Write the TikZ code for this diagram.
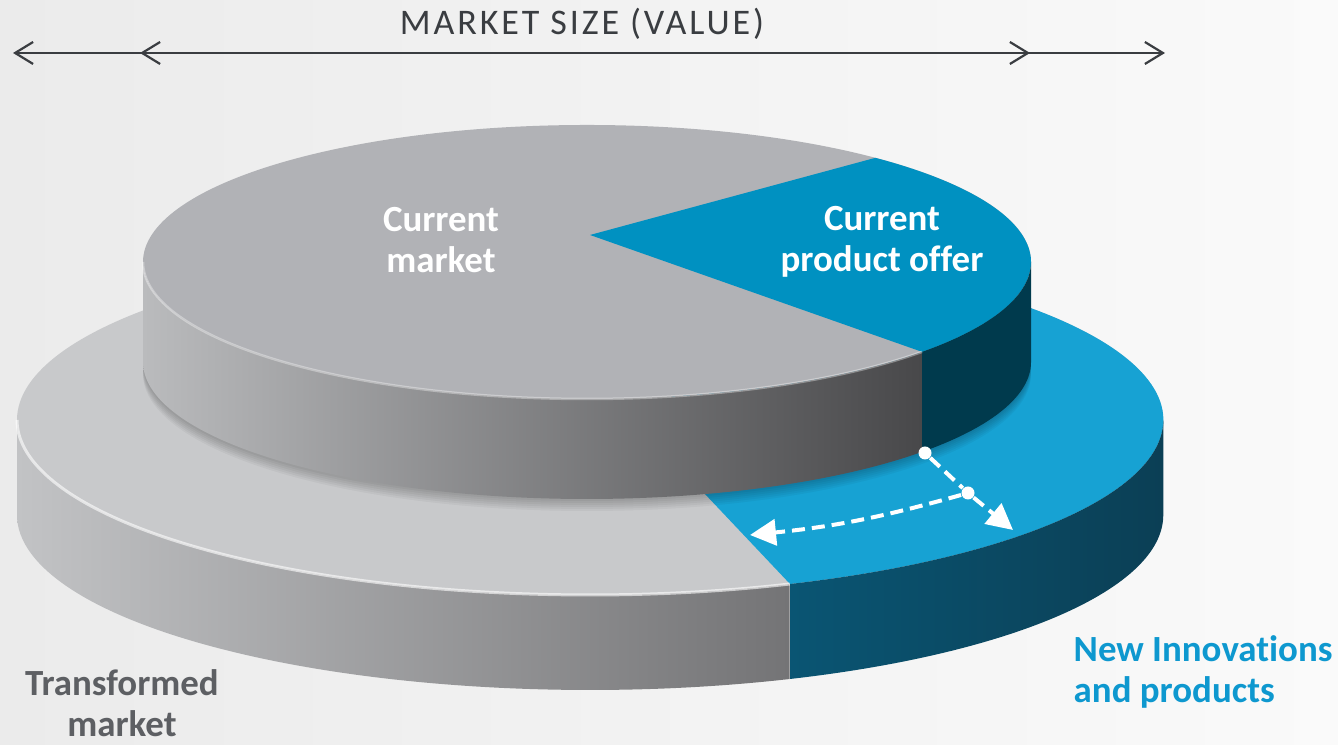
\documentclass[tikz,border=0pt]{standalone}
\usepackage{fontspec}
\setmainfont[Ligatures={NoCommon}]{Carlito}
\newfontfamily\spacedfont[LetterSpace=8, Ligatures={NoCommon}]{Carlito}
\usepackage{tikz}
\usetikzlibrary{arrows.meta}

\definecolor{bgleft}{HTML}{EBEBEB}
\definecolor{bgright}{HTML}{FAFAFA}
\definecolor{arrowgray}{HTML}{3A3D41}
\definecolor{topgray}{HTML}{B1B2B6}
\definecolor{topblue}{HTML}{0091C1}
\definecolor{topsidel}{HTML}{BABBBD}
\definecolor{topsider}{HTML}{48484A}
\definecolor{topblueside}{HTML}{003A4D}
\definecolor{lowgray}{HTML}{C8C9CB}
\definecolor{lowblue}{HTML}{17A2D3}
\definecolor{lowsidel}{HTML}{C2C3C5}
\definecolor{lowsider}{HTML}{747476}
\definecolor{lowbluesidel}{HTML}{0A5573}
\definecolor{lowbluesider}{HTML}{0B3F55}
\definecolor{transgray}{HTML}{5D5F63}
\definecolor{newblue}{HTML}{0E98CF}

\begin{document}
\begin{tikzpicture}[x=0.1mm, y=0.1mm,
    lowdisk/.style={x radius=573, y radius=175},
    topdisk/.style={x radius=444, y radius=137},
    disktext/.style={font=\fontsize{10.5}{11.6}\selectfont\bfseries, align=center, inner sep=0pt},
    sizearrow/.style={draw=arrowgray, line width=0.22mm, <->, >={Straight Barb[length=1.8mm, width=2.2mm]}},
    dashline/.style={white, line width=0.4mm, dash pattern=on 1.3mm off 0.7mm},
    dot/.style={circle, fill=white, inner sep=0pt, minimum size=1.3mm}]
        \useasboundingbox (0,0) rectangle (1338,745);
        \shade[left color=bgleft, right color=bgright] (0,0) rectangle (1338,745);

        \fill[lowgray] (590,325) ellipse[lowdisk];
        \fill[lowblue] (635,325) -- (790,161) arc[lowdisk, start angle=290.4, end angle=420] -- cycle;
        \shade[left color=lowsidel, right color=lowsider] (17,325) arc[lowdisk, start angle=180, end angle=290.4] -- ++(0,-95) arc[lowdisk, start angle=290.4, end angle=180] -- cycle;
        \shade[left color=lowbluesidel, right color=lowbluesider] (790,161) arc[lowdisk, start angle=290.4, end angle=360] -- ++(0,-95) arc[lowdisk, start angle=360, end angle=290.4] -- cycle;
        \draw[white, opacity=.6, line width=0.3mm] (17,325) arc[lowdisk, start angle=180, end angle=290.4];

        \foreach \d in {2,4,...,12}
            \fill[black, opacity=.04] (587,{383-\d}) ellipse[topdisk];

        \fill[topgray] (587,483) ellipse[topdisk];
        \fill[topblue] (590,510) -- (922.1,393.1) arc[topdisk, start angle=319, end angle=409.5] -- cycle;
        \shade[left color=topsidel, right color=topsider] (143,483) arc[topdisk, start angle=180, end angle=319] -- ++(0,-100) arc[topdisk, start angle=319, end angle=180] -- cycle;
        \fill[topblueside] (922.1,393.1) arc[topdisk, start angle=319, end angle=360] -- ++(0,-100) arc[topdisk, start angle=360, end angle=319] -- cycle;
        \draw[white, opacity=.35, line width=0.25mm] (143,483) arc[topdisk, start angle=180, end angle=319];

        \coordinate (outl) at (13,692);
        \coordinate (outr) at (1165,692);
        \coordinate (inl) at (140,692);
        \coordinate (inr) at (1030,692);
        \draw[sizearrow] (outl) -- (outr);
        \draw[sizearrow] (inl) -- (inr);
        \node[font=\spacedfont\fontsize{10.25}{12}\selectfont, text=arrowgray, anchor=base] (title) at (582,710) {MARKET SIZE (VALUE)};

        \node[disktext, text=white] (curmarket) at (441,505) {Current\\market};
        \node[disktext, text=white] (curoffer) at (882,503) {Current\\product offer};
        \node[disktext, text=transgray] (transmarket) at (122,42) {Transformed\\market};
        \node[disktext, text=newblue, align=left, anchor=west] (newprod) at (1073,73) {New Innovations\\and products};

        \node[dot] (dota) at (925,292) {};
        \node[dot] (dotb) at (968,252) {};
        \coordinate (tipr) at (1013,215);
        \coordinate (tipl) at (750,210);
        \draw[dashline] (dota) -- (dotb);
        \draw[dashline, -{Triangle[length=2.6mm, width=2.6mm]}] (dotb) -- (tipr);
        \draw[dashline, -{Triangle[length=2.6mm, width=2.6mm]}] (dotb) to[bend left=5] (tipl);
\end{tikzpicture}
\end{document}
